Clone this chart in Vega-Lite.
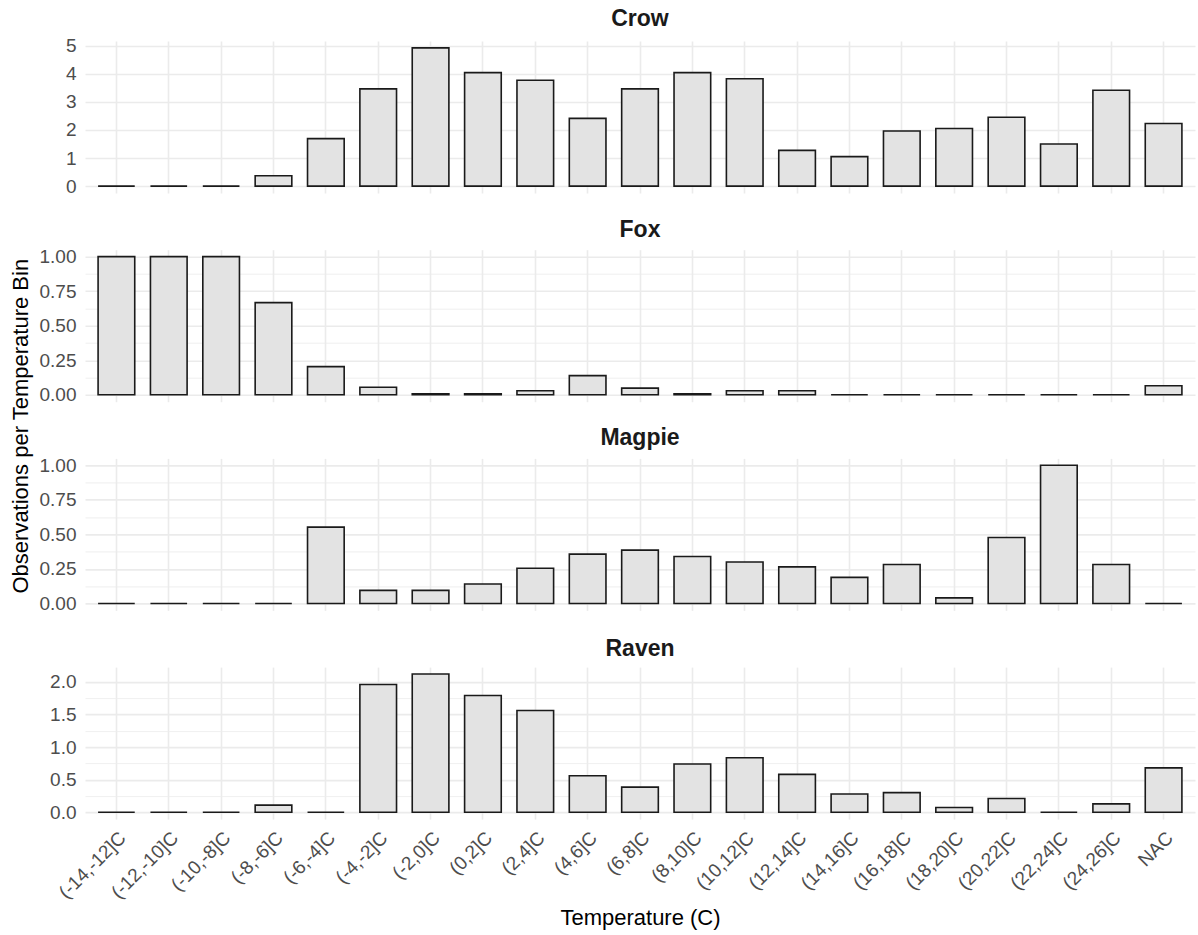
{
  "$schema": "https://vega.github.io/schema/vega-lite/v6.json",
  "padding": {"left": 9, "top": 7, "right": 3, "bottom": 5},
  "background": "white",
  "data": {
    "values": [
      {"species": "Crow", "bin": "(-14,-12]C", "value": 0},
      {"species": "Crow", "bin": "(-12,-10]C", "value": 0},
      {"species": "Crow", "bin": "(-10,-8]C", "value": 0},
      {"species": "Crow", "bin": "(-8,-6]C", "value": 0.37},
      {"species": "Crow", "bin": "(-6,-4]C", "value": 1.69},
      {"species": "Crow", "bin": "(-4,-2]C", "value": 3.46},
      {"species": "Crow", "bin": "(-2,0]C", "value": 4.92},
      {"species": "Crow", "bin": "(0,2]C", "value": 4.04},
      {"species": "Crow", "bin": "(2,4]C", "value": 3.77},
      {"species": "Crow", "bin": "(4,6]C", "value": 2.41},
      {"species": "Crow", "bin": "(6,8]C", "value": 3.46},
      {"species": "Crow", "bin": "(8,10]C", "value": 4.04},
      {"species": "Crow", "bin": "(10,12]C", "value": 3.82},
      {"species": "Crow", "bin": "(12,14]C", "value": 1.27},
      {"species": "Crow", "bin": "(14,16]C", "value": 1.05},
      {"species": "Crow", "bin": "(16,18]C", "value": 1.96},
      {"species": "Crow", "bin": "(18,20]C", "value": 2.05},
      {"species": "Crow", "bin": "(20,22]C", "value": 2.45},
      {"species": "Crow", "bin": "(22,24]C", "value": 1.5},
      {"species": "Crow", "bin": "(24,26]C", "value": 3.41},
      {"species": "Crow", "bin": "NAC", "value": 2.23},
      {"species": "Fox", "bin": "(-14,-12]C", "value": 1},
      {"species": "Fox", "bin": "(-12,-10]C", "value": 1},
      {"species": "Fox", "bin": "(-10,-8]C", "value": 1},
      {"species": "Fox", "bin": "(-8,-6]C", "value": 0.667},
      {"species": "Fox", "bin": "(-6,-4]C", "value": 0.204},
      {"species": "Fox", "bin": "(-4,-2]C", "value": 0.055},
      {"species": "Fox", "bin": "(-2,0]C", "value": 0.008},
      {"species": "Fox", "bin": "(0,2]C", "value": 0.008},
      {"species": "Fox", "bin": "(2,4]C", "value": 0.029},
      {"species": "Fox", "bin": "(4,6]C", "value": 0.139},
      {"species": "Fox", "bin": "(6,8]C", "value": 0.048},
      {"species": "Fox", "bin": "(8,10]C", "value": 0.008},
      {"species": "Fox", "bin": "(10,12]C", "value": 0.029},
      {"species": "Fox", "bin": "(12,14]C", "value": 0.029},
      {"species": "Fox", "bin": "(14,16]C", "value": 0},
      {"species": "Fox", "bin": "(16,18]C", "value": 0},
      {"species": "Fox", "bin": "(18,20]C", "value": 0},
      {"species": "Fox", "bin": "(20,22]C", "value": 0},
      {"species": "Fox", "bin": "(22,24]C", "value": 0},
      {"species": "Fox", "bin": "(24,26]C", "value": 0},
      {"species": "Fox", "bin": "NAC", "value": 0.065},
      {"species": "Magpie", "bin": "(-14,-12]C", "value": 0},
      {"species": "Magpie", "bin": "(-12,-10]C", "value": 0},
      {"species": "Magpie", "bin": "(-10,-8]C", "value": 0},
      {"species": "Magpie", "bin": "(-8,-6]C", "value": 0},
      {"species": "Magpie", "bin": "(-6,-4]C", "value": 0.553},
      {"species": "Magpie", "bin": "(-4,-2]C", "value": 0.095},
      {"species": "Magpie", "bin": "(-2,0]C", "value": 0.095},
      {"species": "Magpie", "bin": "(0,2]C", "value": 0.141},
      {"species": "Magpie", "bin": "(2,4]C", "value": 0.255},
      {"species": "Magpie", "bin": "(4,6]C", "value": 0.357},
      {"species": "Magpie", "bin": "(6,8]C", "value": 0.386},
      {"species": "Magpie", "bin": "(8,10]C", "value": 0.34},
      {"species": "Magpie", "bin": "(10,12]C", "value": 0.3},
      {"species": "Magpie", "bin": "(12,14]C", "value": 0.265},
      {"species": "Magpie", "bin": "(14,16]C", "value": 0.189},
      {"species": "Magpie", "bin": "(16,18]C", "value": 0.282},
      {"species": "Magpie", "bin": "(18,20]C", "value": 0.041},
      {"species": "Magpie", "bin": "(20,22]C", "value": 0.478},
      {"species": "Magpie", "bin": "(22,24]C", "value": 1.0},
      {"species": "Magpie", "bin": "(24,26]C", "value": 0.282},
      {"species": "Magpie", "bin": "NAC", "value": 0},
      {"species": "Raven", "bin": "(-14,-12]C", "value": 0},
      {"species": "Raven", "bin": "(-12,-10]C", "value": 0},
      {"species": "Raven", "bin": "(-10,-8]C", "value": 0},
      {"species": "Raven", "bin": "(-8,-6]C", "value": 0.108},
      {"species": "Raven", "bin": "(-6,-4]C", "value": 0},
      {"species": "Raven", "bin": "(-4,-2]C", "value": 1.96},
      {"species": "Raven", "bin": "(-2,0]C", "value": 2.12},
      {"species": "Raven", "bin": "(0,2]C", "value": 1.79},
      {"species": "Raven", "bin": "(2,4]C", "value": 1.56},
      {"species": "Raven", "bin": "(4,6]C", "value": 0.56},
      {"species": "Raven", "bin": "(6,8]C", "value": 0.385},
      {"species": "Raven", "bin": "(8,10]C", "value": 0.74},
      {"species": "Raven", "bin": "(10,12]C", "value": 0.836},
      {"species": "Raven", "bin": "(12,14]C", "value": 0.58},
      {"species": "Raven", "bin": "(14,16]C", "value": 0.28},
      {"species": "Raven", "bin": "(16,18]C", "value": 0.3},
      {"species": "Raven", "bin": "(18,20]C", "value": 0.072},
      {"species": "Raven", "bin": "(20,22]C", "value": 0.21},
      {"species": "Raven", "bin": "(22,24]C", "value": 0},
      {"species": "Raven", "bin": "(24,26]C", "value": 0.128},
      {"species": "Raven", "bin": "NAC", "value": 0.68}
    ]
  },
  "bounds": "flush",
  "spacing": 56.7,
  "vconcat": [
    {
      "title": {"text": "Crow"},
      "width": 1110,
      "height": 152,
      "transform": [{"filter": "datum.species === 'Crow'"}],
      "mark": {"type": "bar", "fill": "#E3E3E3", "stroke": "#1a1a1a", "strokeWidth": 1.6},
      "encoding": {
        "x": {"field": "bin", "type": "nominal", "sort": null,
              "scale": {"paddingInner": 0.3, "paddingOuter": 0.25},
              "axis": {"labels": false, "title": null}},
        "y": {"field": "value", "type": "quantitative",
              "scale": {"domain": [-0.246, 5.166], "nice": false, "zero": false},
              "axis": {"title": null, "format": "d",
                       "values": [0, 0.5, 1, 1.5, 2, 2.5, 3, 3.5, 4, 4.5, 5],
                       "labelExpr": "datum.value % 1 === 0 ? datum.label : ''",
                       "gridWidth": {"condition": {"test": "datum.value % 1 === 0", "value": 1.6}, "value": 0.8}}}
      }
    },
    {
      "title": {"text": "Fox"},
      "width": 1110,
      "height": 152,
      "transform": [{"filter": "datum.species === 'Fox'"}],
      "mark": {"type": "bar", "fill": "#E3E3E3", "stroke": "#1a1a1a", "strokeWidth": 1.6},
      "encoding": {
        "x": {"field": "bin", "type": "nominal", "sort": null,
              "scale": {"paddingInner": 0.3, "paddingOuter": 0.25},
              "axis": {"labels": false, "title": null}},
        "y": {"field": "value", "type": "quantitative",
              "scale": {"domain": [-0.05, 1.05], "nice": false, "zero": false},
              "axis": {"title": "Observations per Temperature Bin", "titleY": 176, "titlePadding": 7, "format": ".2f",
                       "values": [0, 0.125, 0.25, 0.375, 0.5, 0.625, 0.75, 0.875, 1],
                       "labelExpr": "datum.value % 0.25 === 0 ? datum.label : ''",
                       "gridWidth": {"condition": {"test": "datum.value % 0.25 === 0", "value": 1.6}, "value": 0.8}}}
      }
    },
    {
      "title": {"text": "Magpie"},
      "width": 1110,
      "height": 152,
      "transform": [{"filter": "datum.species === 'Magpie'"}],
      "mark": {"type": "bar", "fill": "#E3E3E3", "stroke": "#1a1a1a", "strokeWidth": 1.6},
      "encoding": {
        "x": {"field": "bin", "type": "nominal", "sort": null,
              "scale": {"paddingInner": 0.3, "paddingOuter": 0.25},
              "axis": {"labels": false, "title": null}},
        "y": {"field": "value", "type": "quantitative",
              "scale": {"domain": [-0.05, 1.05], "nice": false, "zero": false},
              "axis": {"title": null, "format": ".2f",
                       "values": [0, 0.125, 0.25, 0.375, 0.5, 0.625, 0.75, 0.875, 1],
                       "labelExpr": "datum.value % 0.25 === 0 ? datum.label : ''",
                       "gridWidth": {"condition": {"test": "datum.value % 0.25 === 0", "value": 1.6}, "value": 0.8}}}
      }
    },
    {
      "title": {"text": "Raven"},
      "width": 1110,
      "height": 152,
      "transform": [{"filter": "datum.species === 'Raven'"}],
      "mark": {"type": "bar", "fill": "#E3E3E3", "stroke": "#1a1a1a", "strokeWidth": 1.6},
      "encoding": {
        "x": {"field": "bin", "type": "nominal", "sort": null,
              "scale": {"paddingInner": 0.3, "paddingOuter": 0.25},
              "axis": {"title": "Temperature (C)", "labelAngle": -45, "labelAlign": "right", "labelBaseline": "top",
                       "labelPadding": 9, "titlePadding": 5}},
        "y": {"field": "value", "type": "quantitative",
              "scale": {"domain": [-0.106, 2.226], "nice": false, "zero": false},
              "axis": {"title": null, "format": ".1f",
                       "values": [0, 0.25, 0.5, 0.75, 1, 1.25, 1.5, 1.75, 2],
                       "labelExpr": "datum.value % 0.5 === 0 ? datum.label : ''",
                       "gridWidth": {"condition": {"test": "datum.value % 0.5 === 0", "value": 1.6}, "value": 0.8}}}
      }
    }
  ],
  "config": {
    "font": "Liberation Sans",
    "view": {"stroke": null},
    "title": {"fontSize": 23, "fontWeight": "bold", "color": "#1A1A1A", "anchor": "middle", "frame": "group", "offset": 6, "font": "Liberation Sans"},
    "axis": {
      "domain": false,
      "ticks": false,
      "tickSize": 0,
      "grid": true,
      "gridColor": "#EBEBEB",
      "gridWidth": 1.6,
      "labelFont": "Liberation Sans",
      "labelFontSize": 19,
      "labelColor": "#4D4D4D",
      "labelPadding": 9,
      "labelOverlap": false,
      "labelFlush": false,
      "bandPosition": 0.5,
      "titleFont": "Liberation Sans",
      "titleFontSize": 22,
      "titleFontWeight": "normal",
      "titleColor": "#000000",
      "titlePadding": 10
    }
  }
}
